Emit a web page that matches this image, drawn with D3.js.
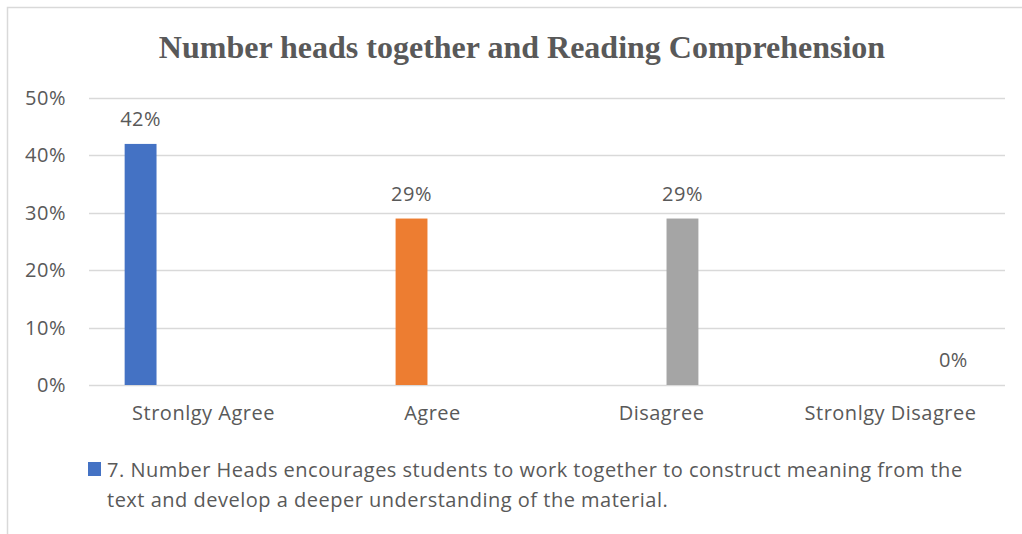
<!DOCTYPE html>
<html>
<head>
<meta charset="utf-8">
<script src="https://cdn.jsdelivr.net/npm/d3@7"></script>
<style>
  body { margin: 0; background: #fff; }
  text { font-family: "Open Sans", sans-serif; fill: #595959; letter-spacing: 0.5px; }
</style>
</head>
<body>
<svg id="chart" width="1022" height="534"></svg>
<script>
// data
var categories = ["Stronlgy Agree", "Agree", "Disagree", "Stronlgy Disagree"];
var values = [0.42, 0.29, 0.29, 0];
var barColors = ["#4472c4", "#ed7d31", "#a5a5a5", "#ffc000"];
var yTicks = [0, 0.1, 0.2, 0.3, 0.4, 0.5];
var legendLines = ["7. Number Heads encourages students to work together to construct meaning from the",
                   "text and develop a deeper understanding of the material."];
var title = "Number heads together and Reading Comprehension";

var svg = d3.select("#chart");

// outer frame (only top and left show)
svg.append("path")
  .attr("d", "M7.5,534 V7.5 H1022")
  .attr("fill", "none")
  .attr("stroke", "#d9d9d9")
  .attr("stroke-width", 1.5);

var plotL = 89, plotR = 1005, plotT = 98, plotB = 385;

var x = d3.scaleBand().domain(categories).range([plotL, plotR]);
// each category holds its own slot in a 4-wide cluster
var xSub = d3.scaleBand().domain(d3.range(categories.length))
  .range([0, x.bandwidth()]).paddingInner(0.24).paddingOuter(0.85);
var y = d3.scaleLinear().domain([0, 0.5]).range([plotB, plotT]);
var fmt = d3.format(".0%");

// gridlines
svg.append("g")
  .selectAll("line")
  .data(yTicks)
  .join("line")
  .attr("x1", plotL).attr("x2", plotR)
  .attr("y1", function(d) { return Math.round(y(d)) + 0.5; })
  .attr("y2", function(d) { return Math.round(y(d)) + 0.5; })
  .attr("stroke", "#d9d9d9")
  .attr("stroke-width", 1.5);

// y axis labels
var yAxis = d3.axisLeft(y).tickValues(yTicks).tickFormat(fmt).tickSize(0).tickPadding(0);
var gy = svg.append("g").attr("transform", "translate(66,0)").call(yAxis);
gy.select(".domain").remove();
gy.selectAll("text")
  .attr("font-family", "Open Sans, sans-serif")
  .attr("font-size", 20)
  .attr("fill", "#595959");

// x axis labels
var xAxis = d3.axisBottom(x).tickSize(0).tickPadding(0);
var gx = svg.append("g").attr("transform", "translate(0,406)").call(xAxis);
gx.select(".domain").remove();
gx.selectAll("text")
  .attr("font-family", "Open Sans, sans-serif")
  .attr("font-size", 20)
  .attr("fill", "#595959");

// bars
svg.append("g")
  .selectAll("rect")
  .data(values)
  .join("rect")
  .attr("x", function(d, i) { return x(categories[i]) + xSub(i); })
  .attr("y", function(d) { return y(d); })
  .attr("width", xSub.bandwidth())
  .attr("height", function(d) { return plotB - y(d); })
  .attr("fill", function(d, i) { return barColors[i]; });

// value labels
svg.append("g")
  .selectAll("text")
  .data(values)
  .join("text")
  .attr("x", function(d, i) { return x(categories[i]) + xSub(i) + xSub.bandwidth() / 2; })
  .attr("y", function(d) { return y(d) - 18; })
  .attr("text-anchor", "middle")
  .attr("font-size", 20)
  .text(function(d) { return fmt(d); });

// title
svg.append("text")
  .attr("x", 522)
  .attr("y", 58)
  .attr("text-anchor", "middle")
  .style("font-family", "'Liberation Serif', serif")
  .style("font-weight", "bold")
  .style("font-size", "32px")
  .style("letter-spacing", "0px")
  .text(title);

// legend
svg.append("rect")
  .attr("x", 88).attr("y", 462)
  .attr("width", 13).attr("height", 14)
  .attr("fill", barColors[0]);

svg.append("g")
  .selectAll("text")
  .data(legendLines)
  .join("text")
  .attr("x", 107)
  .attr("y", function(d, i) { return 477 + i * 30; })
  .attr("font-size", 20)
  .text(function(d) { return d; });
</script>
</body>
</html>
